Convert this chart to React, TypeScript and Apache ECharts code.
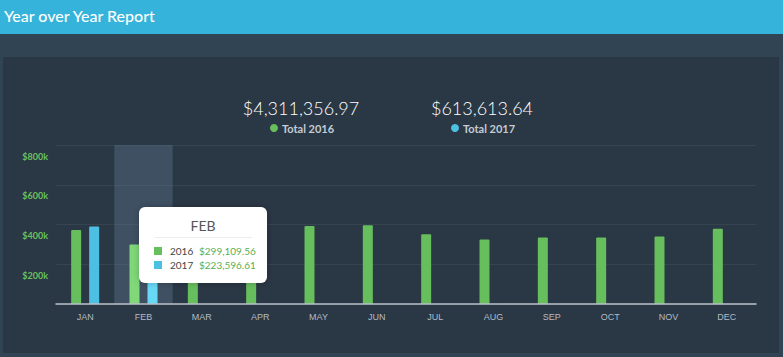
import React, { useEffect, useRef } from "react";
import * as echarts from "echarts";

const months = ["JAN", "FEB", "MAR", "APR", "MAY", "JUN", "JUL", "AUG", "SEP", "OCT", "NOV", "DEC"];
const sales2016 = [372000, 299109.56, 394120, 397130, 392000, 396000, 351000, 324000, 334000, 334000, 339000, 379000];
const sales2017 = [390017.03, 223596.61, null, null, null, null, null, null, null, null, null, null];
const yMax = 800000;
const yInterval = 200000;
const total2016Text = "$4,311,356.97";
const total2017Text = "$613,613.64";
const focusIndex = 1;

const GREEN = "#67be5d";
const BLUE = "#4dbfe3";
const GREEN_HL = "#80d879";
const BLUE_HL = "#67d9f7";

const fmtMoney = (v: number) =>
  "$" + v.toLocaleString("en-US", { minimumFractionDigits: 2, maximumFractionDigits: 2 });

function txt(x: number, y: number, text: string, font: string, fill: string, align = "left", z = 10) {
  return {
    type: "text",
    x,
    y,
    z,
    style: { text, font, fill, textAlign: align, align, textVerticalAlign: "middle", verticalAlign: "middle" },
    silent: true,
  };
}

export default function App() {
  const ref = useRef<HTMLDivElement>(null);

  useEffect(() => {
    if (!ref.current) return;
    const chart = echarts.init(ref.current, undefined, { renderer: "svg" });

    const data2016 = sales2016.map((v, i) =>
      i === focusIndex ? { value: v, itemStyle: { color: GREEN_HL } } : v
    );
    const data2017 = sales2017.map((v, i) =>
      i === focusIndex && v != null ? { value: v, itemStyle: { color: BLUE_HL } } : v
    );
    const shadowData = months.map((_, i) => (i === focusIndex ? yMax : null));

    const ttX = 139;
    const ttY = 207;

    chart.setOption({
      animation: false,
      backgroundColor: "transparent",
      grid: { left: 56, right: 27, top: 145, bottom: 53 },
      xAxis: [
        {
          type: "category",
          data: months,
          axisLine: { lineStyle: { color: "#b9c0c8", width: 1.5 } },
          axisTick: { show: false },
          axisLabel: { color: "#b3bbc4", fontSize: 9, margin: 8, fontFamily: "Liberation Sans" },
          splitLine: { show: false },
          z: 3,
        },
        { type: "category", data: months, show: false },
      ],
      yAxis: {
        type: "value",
        min: 0,
        max: yMax,
        interval: yInterval,
        axisLine: { show: false },
        axisTick: { show: false },
        splitLine: { lineStyle: { color: "#35444f", width: 1 } },
        axisLabel: {
          showMinLabel: false,
          color: "#6cc05f",
          fontSize: 9,
          fontWeight: "bold",
          fontFamily: "Lato",
          margin: 8,
          verticalAlign: "top",
          lineHeight: 22,
          formatter: (v: number) => "$" + v / 1000 + "k",
        },
      },
      series: [
        {
          name: "hover",
          type: "bar",
          xAxisIndex: 1,
          data: shadowData,
          barWidth: "100%",
          itemStyle: { color: "rgba(110,140,170,0.3)" },
          silent: true,
          z: 1,
        },
        {
          name: "2016",
          type: "bar",
          data: data2016,
          barWidth: 10,
          barGap: "80%",
          itemStyle: { color: GREEN, borderRadius: [1, 1, 0, 0] },
          z: 2,
        },
        {
          name: "2017",
          type: "bar",
          data: data2017,
          barWidth: 10,
          barGap: "80%",
          itemStyle: { color: BLUE, borderRadius: [1, 1, 0, 0] },
          z: 2,
        },
      ],
      graphic: [
        txt(4, 15, "Year over Year Report", "500 16px Lato", "#ffffff"),
        txt(301, 108, total2016Text, "300 18px Lato", "#ffffff", "center"),
        { type: "circle", z: 10, silent: true, shape: { cx: 274, cy: 128, r: 4 }, style: { fill: GREEN } },
        txt(282, 128, "Total 2016", "bold 11px Lato", "#c5ccd4"),
        txt(482, 108, total2017Text, "300 18px Lato", "#ffffff", "center"),
        { type: "circle", z: 10, silent: true, shape: { cx: 455, cy: 128, r: 4 }, style: { fill: BLUE } },
        txt(463, 128, "Total 2017", "bold 11px Lato", "#c5ccd4"),
        {
          type: "group",
          z: 100,
          children: [
            {
              type: "rect",
              z: 100,
              shape: { x: ttX, y: ttY, width: 128, height: 76, r: 6 },
              style: { fill: "#ffffff", shadowBlur: 6, shadowColor: "rgba(0,0,0,0.25)" },
            },
            txt(203, 225, months[focusIndex], "14px Lato", "#555555", "center", 101),
            {
              type: "line",
              z: 101,
              shape: { x1: 155, y1: 237.5, x2: 252, y2: 237.5 },
              style: { stroke: "#ececec", lineWidth: 1 },
            },
            { type: "rect", z: 101, shape: { x: 154, y: 247, width: 8, height: 8 }, style: { fill: GREEN } },
            txt(170, 251, "2016", "10px Lato", "#444444", "left", 101),
            txt(199, 251, fmtMoney(sales2016[focusIndex]), "10px Lato", "#5aaf4f", "left", 101),
            { type: "rect", z: 101, shape: { x: 154, y: 261, width: 8, height: 8 }, style: { fill: BLUE } },
            txt(170, 265, "2017", "10px Lato", "#444444", "left", 101),
            txt(199, 265, fmtMoney(sales2017[focusIndex] as number), "10px Lato", "#5aaf4f", "left", 101),
          ],
        },
      ],
    });

    return () => chart.dispose();
  }, []);

  return (
    <div style={{ position: "absolute", left: 0, top: 0, width: 783, height: 357, background: "#314453", overflow: "hidden" }}>
      <div style={{ position: "absolute", left: 0, top: 0, width: 783, height: 34, background: "#35b3da" }} />
      <div style={{ position: "absolute", left: 3, top: 57, width: 776, height: 296, background: "#2a3744" }} />
      <div ref={ref} style={{ position: "absolute", left: 0, top: 0, width: 783, height: 357 }} />
    </div>
  );
}
